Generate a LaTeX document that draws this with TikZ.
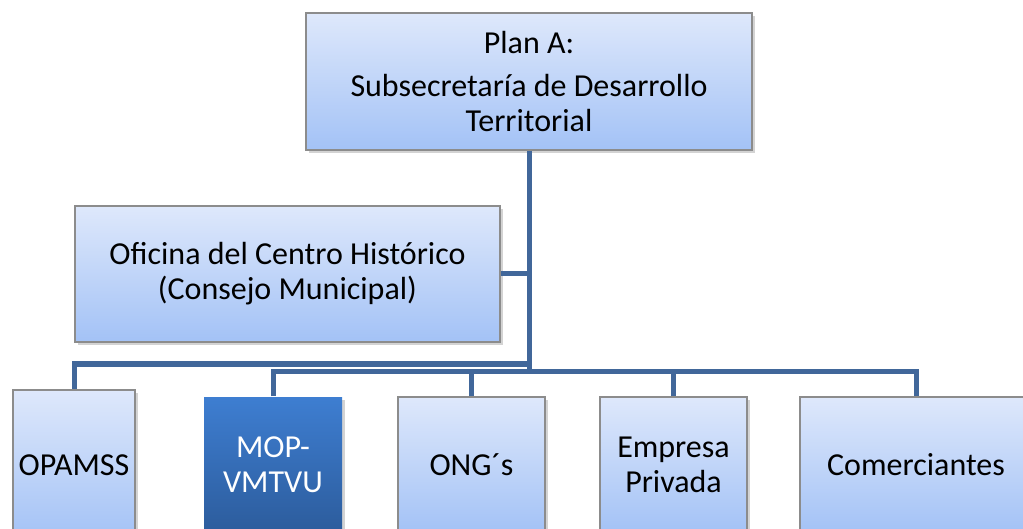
\documentclass[tikz,border=0pt]{standalone}
\usepackage{fontspec}
\setmainfont{Carlito}
\usetikzlibrary{shadows, calc}
\definecolor{linkblue}{RGB}{65,103,154}
\definecolor{boxgray}{RGB}{140,140,140}
\definecolor{boxtop}{RGB}{222,232,251}
\definecolor{boxbottom}{RGB}{163,194,246}
\definecolor{darktop}{RGB}{62,126,209}
\definecolor{darkbottom}{RGB}{44,92,156}

\begin{document}
\begin{tikzpicture}[x=1pt, y=-1pt,
    box/.style={draw=boxgray, line width=1.2pt, top color=boxtop, bottom color=boxbottom,
        drop shadow={shadow xshift=2.5pt, shadow yshift=-3pt, opacity=0.35},
        align=center, inner sep=0pt, font=\fontsize{32}{35}\selectfont},
    darkbox/.style={box, draw=none, top color=darktop, bottom color=darkbottom, text=white},
    link/.style={draw=linkblue, line width=5pt}]
                        \useasboundingbox (0, 0) rectangle (1023, 529);
                        \clip (0, 0) rectangle (1023, 529);

                        \node[box, minimum width=446pt, minimum height=137pt] (plan) at (529, 81.5)
                            {Plan A:\\[8pt]Subsecretaría de Desarrollo\\Territorial};
                        \node[box, minimum width=425pt, minimum height=136pt] (oficina) at (287.5, 274)
                            {Oficina del Centro Histórico\\(Consejo Municipal)};

                        \node[box, minimum width=122pt, minimum height=150pt] (opamss) at (74, 465) {OPAMSS};
                        \node[darkbox, minimum width=138pt, minimum height=136pt] (mop) at (273, 465) {MOP-\\VMTVU};
                        \node[box, minimum width=147pt, minimum height=136pt] (ong) at (471.5, 465) {ONG´s};
                        \node[box, minimum width=147pt, minimum height=136pt] (empresa) at (673.5, 465) {Empresa\\Privada};
                        \node[box, minimum width=232pt, minimum height=136pt] (comerciantes) at (916, 465) {Comerciantes};

                        \coordinate (busA) at (0, 364);
                        \coordinate (busB) at (0, 371);

                        \draw[link] (plan.south) -- (plan.south |- busB);
                        \draw[link] (oficina.east) -- (oficina.east -| plan.south);
                        \draw[link] (plan.south |- busA) -| (opamss.north);
                        \draw[link] (mop.north) |- (comerciantes.north |- busB) -- (comerciantes.north);
                        \draw[link] (ong.north) -- (ong.north |- busB);
                        \draw[link] (empresa.north) -- (empresa.north |- busB);
                    \end{tikzpicture}
\end{document}
